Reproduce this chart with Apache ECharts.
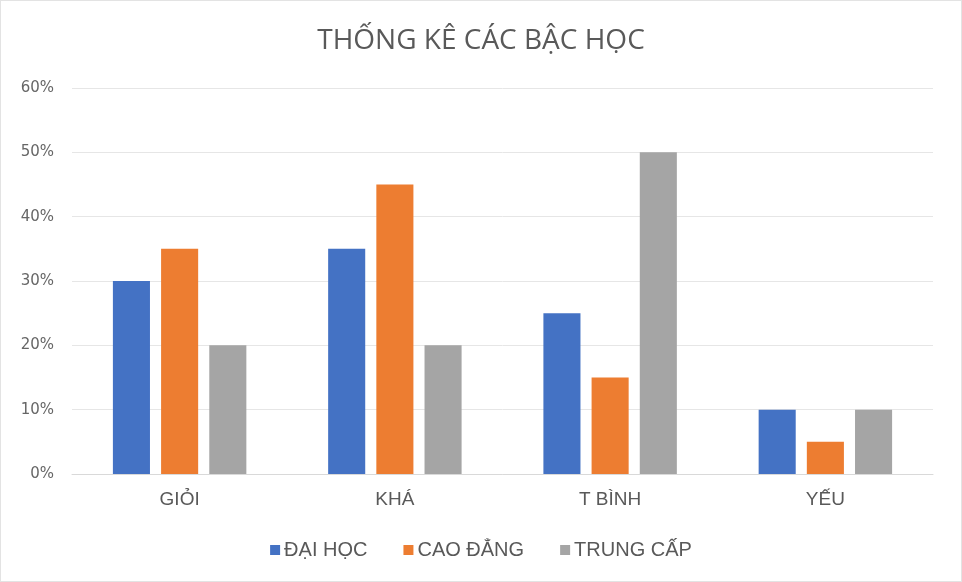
<!DOCTYPE html>
<html><head><meta charset="utf-8">
<script src="https://cdn.jsdelivr.net/npm/echarts@6/dist/echarts.min.js"></script>
<style>html,body{margin:0;padding:0;background:#fff}#c{width:960px;height:580px;border:1px solid #e3e3e3}</style>
</head><body><div id="c"></div>
<script>
const categories = ['GIỎI', 'KHÁ', 'T BÌNH', 'YẾU'];
const seriesNames = ['ĐẠI HỌC', 'CAO ĐẲNG', 'TRUNG CẤP'];
const daiHoc = [30, 35, 25, 10];
const caoDang = [35, 45, 15, 5];
const trungCap = [20, 20, 50, 10];
const colors = ['#4472C4', '#ED7D31', '#A5A5A5'];
const values = [daiHoc, caoDang, trungCap];

const chart = echarts.init(document.getElementById('c'));
chart.setOption({
  animation: false,
  textStyle: { fontFamily: 'Open Sans, sans-serif', color: '#595959' },
  title: { text: 'THỐNG KÊ CÁC BẬC HỌC', left: 'center', top: 21,
    textStyle: { fontSize: 28, fontWeight: 'normal', color: '#595959', fontFamily: 'Open Sans, sans-serif' } },
  legend: { top: 534, left: 'center', itemWidth: 10, itemHeight: 10, itemGap: 36, icon: 'rect',
    textStyle: { fontSize: 20, color: '#595959', padding: [0, 0, 0, -1], fontFamily: 'Liberation Sans, sans-serif' },
    data: seriesNames },
  grid: { left: 71, right: 28, top: 87, bottom: 107 },
  xAxis: { type: 'category', data: categories,
    axisLine: { lineStyle: { color: '#d9d9d9' } }, axisTick: { show: false },
    axisLabel: { fontSize: 19, color: '#595959', margin: 16, fontFamily: 'Liberation Sans, sans-serif' } },
  yAxis: { type: 'value', min: 0, max: 60, interval: 10,
    axisLabel: { formatter: '{value}%', fontSize: 15, color: '#666666', margin: 18, fontFamily: 'DejaVu Sans, sans-serif' },
    splitLine: { lineStyle: { color: '#e6e6e6' } }, axisLine: { show: false }, axisTick: { show: false } },
  series: seriesNames.map((n, i) => ({
    name: n, type: 'bar', data: values[i], barGap: '30%', barCategoryGap: '38%',
    itemStyle: { color: colors[i] }
  }))
});
</script></body></html>
